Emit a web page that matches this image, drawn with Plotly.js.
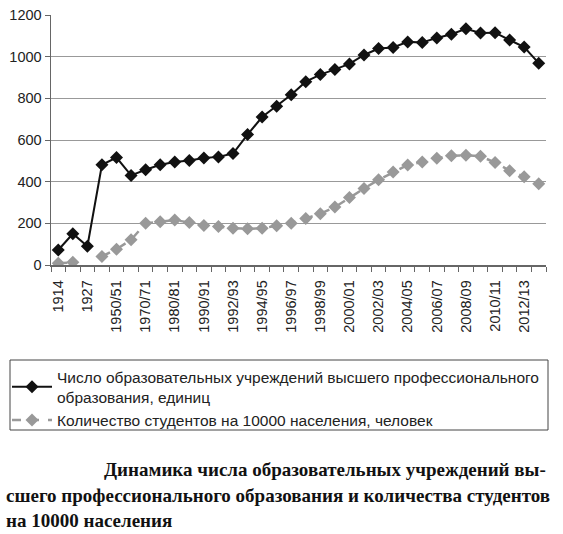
<!DOCTYPE html>
<html><head><meta charset="utf-8">
<script src="https://cdn.plot.ly/plotly-3.0.1.min.js"></script>
<style>body{margin:0;background:#fff}#c{width:563px;height:534px}</style>
</head><body><div id="c"></div>
<script>
const categories = ["1914","1917","1927","1940/41","1950/51","1960/61","1970/71","1975/76","1980/81","1985/86","1990/91","1991/92","1992/93","1993/94","1994/95","1995/96","1996/97","1997/98","1998/99","1999/00","2000/01","2001/02","2002/03","2003/04","2004/05","2005/06","2006/07","2007/08","2008/09","2009/10","2010/11","2011/12","2012/13","2013/14"];
const institutions = [72,150,90,481,516,430,457,481,494,502,514,519,535,626,710,762,817,880,914,939,965,1008,1039,1044,1071,1068,1090,1108,1134,1114,1115,1080,1046,969];
const students = [8,13,null,41,76,121,200,208,216,204,190,185,176,174,176,188,201,223,246,278,324,367,409,446,480,495,513,524,527,522,492,453,424,390];
const tickLabels = categories.map((c,i)=> i%2===0 ? c : "");
const nameA = "Число образовательных учреждений высшего профессионального<br>образования, единиц";
const nameB = "Количество студентов на 10000 населения, человек";

const W = 563, H = 534, L = 51, R = 17, T = 15, B = 269;
const pw = W - L - R, ph = H - T - B;
const px = v => (v - L) / pw;
const py = v => (H - B - v) / ph;

const traces = [
 {x:categories, y:institutions, name:nameA, type:"scatter", mode:"lines+markers",
  line:{color:"#111", width:2}, marker:{symbol:"diamond", size:10, color:"#111"}},
 {x:categories, y:students, name:nameB, type:"scatter", mode:"lines+markers", connectgaps:false,
  line:{color:"#999", width:2.5, dash:"dash"}, marker:{symbol:"diamond", size:10, color:"#999"}}
];
const capFont = {family:"Liberation Serif", size:19, color:"#111"};
const layout = {
 width:W, height:H, margin:{l:L, r:R, t:T, b:B, autoexpand:false},
 paper_bgcolor:"#fff", plot_bgcolor:"#fff",
 font:{family:"Liberation Sans, Arial", size:14.5, color:"#222"},
 showlegend:true,
 xaxis:{type:"category", range:[-0.5, categories.length-0.5], tickvals:categories, ticktext:tickLabels, tickangle:-90,
   tickson:"boundaries", ticks:"outside", ticklen:5, tickcolor:"#666", ticklabelstandoff:8,
   showline:true, linecolor:"#666", linewidth:1.5, showgrid:false, zeroline:false,
   tickfont:{size:14.5, color:"#222"}, automargin:false},
 yaxis:{range:[0,1200], dtick:200, ticks:"outside", ticklen:5, tickcolor:"#666",
   showline:true, linecolor:"#666", linewidth:1.5, showgrid:true, gridcolor:"#999", gridwidth:1,
   zeroline:false, tickfont:{size:14.5, color:"#222"}, automargin:false},
 legend:{xref:"paper", yref:"paper", x:px(7), y:py(360), xanchor:"left", yanchor:"top",
   borderwidth:0, bgcolor:"rgba(0,0,0,0)", font:{size:15.5, color:"#222"},
   tracegroupgap:0, itemwidth:40},
 shapes:[
  {type:"rect", xref:"paper", yref:"paper", x0:px(10), x1:px(548), y0:py(360), y1:py(430),
   line:{color:"#444", width:1}, fillcolor:"rgba(0,0,0,0)"}
 ],
 annotations:[
  {xref:"paper", yref:"paper", x:px(548), y:py(470), xanchor:"right", yanchor:"middle",
   text:"<b>Динамика числа образовательных учреждений вы-</b>", showarrow:false, font:capFont},
  {xref:"paper", yref:"paper", x:px(4), y:py(495), xanchor:"left", yanchor:"middle",
   text:"<b>сшего профессионального образования и количества студентов</b>", showarrow:false, font:capFont},
  {xref:"paper", yref:"paper", x:px(4), y:py(520), xanchor:"left", yanchor:"middle",
   text:"<b>на 10000 населения</b>", showarrow:false, font:capFont}
 ]
};
Plotly.newPlot("c", traces, layout, {displayModeBar:false, staticPlot:true});
</script></body></html>
